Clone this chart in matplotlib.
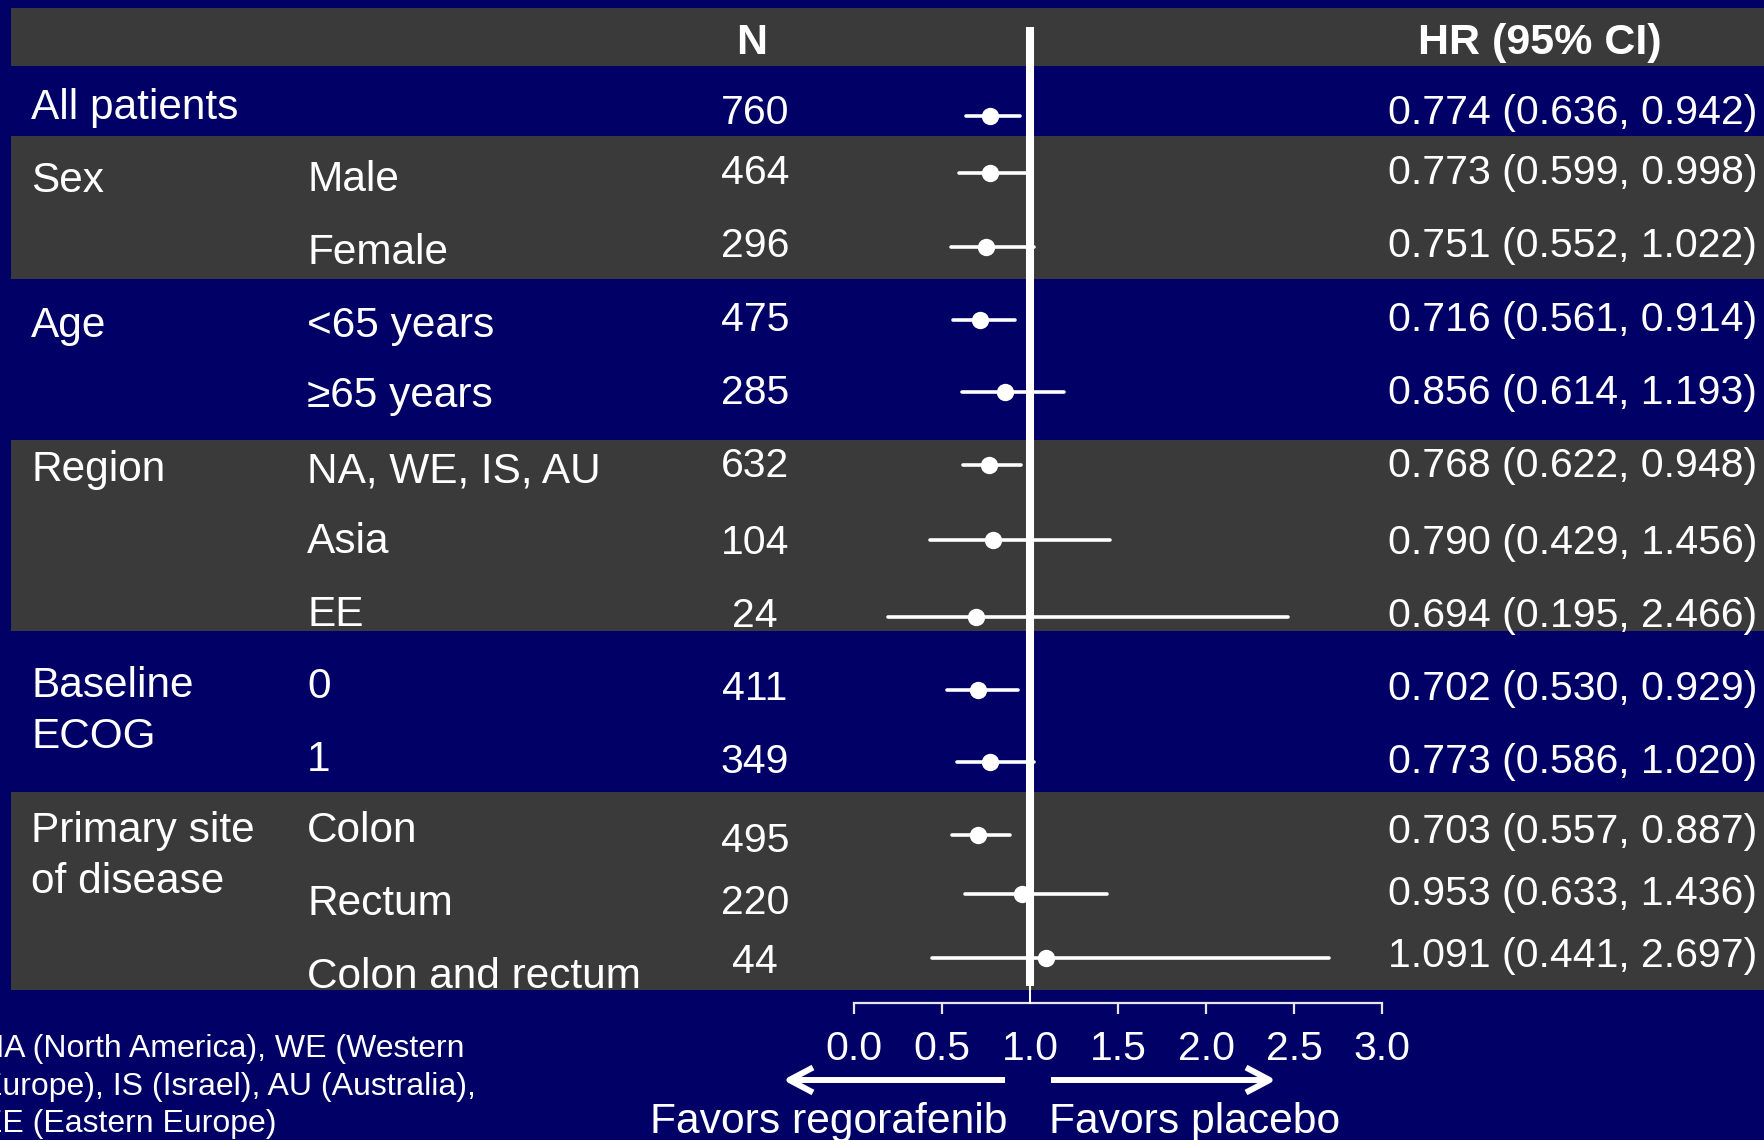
import matplotlib
matplotlib.use("Agg")
import matplotlib.pyplot as plt
from matplotlib.patches import FancyArrowPatch

plt.rcParams['font.family'] = ['Liberation Sans', 'DejaVu Sans']

# subgroup data
groups = [['All patients'], ['Sex'], [], ['Age'], [], ['Region'], [], [],
          ['Baseline', 'ECOG'], [], ['Primary site', 'of disease'], [], []]
subgroups = ['', 'Male', 'Female', '<65 years', '≥65 years', 'NA, WE, IS, AU',
             'Asia', 'EE', '0', '1', 'Colon', 'Rectum', 'Colon and rectum']
n_pts = [760, 464, 296, 475, 285, 632, 104, 24, 411, 349, 495, 220, 44]
hr = [0.774, 0.773, 0.751, 0.716, 0.856, 0.768, 0.790, 0.694, 0.702, 0.773, 0.703, 0.953, 1.091]
ci_lo = [0.636, 0.599, 0.552, 0.561, 0.614, 0.622, 0.429, 0.195, 0.530, 0.586, 0.557, 0.633, 0.441]
ci_hi = [0.942, 0.998, 1.022, 0.914, 1.193, 0.948, 1.456, 2.466, 0.929, 1.020, 0.887, 1.436, 2.697]
ticks = [0.0, 0.5, 1.0, 1.5, 2.0, 2.5, 3.0]
footnote = ['NA (North America), WE (Western',
            'Europe), IS (Israel), AU (Australia),',
            'EE (Eastern Europe)']

# layout (pixels from the top of the figure)
W, H = 1764, 1140
X0, UNIT = 854, 176          # pixel position of HR = 0 and pixels per HR unit
row_y = [116, 173, 247, 320, 392, 465, 540, 617, 690, 762, 835, 894, 958]
group_base = [119, 192, 0, 337, 0, 481, 0, 0, 697, 0, 842, 0, 0]
group_step = 51
sub_base = [0, 191, 264, 337, 407, 482, 553, 626, 698, 771, 842, 915, 988]
n_base = [124, 184, 257, 331, 404, 477, 554, 627, 700, 773, 852, 914, 973]
hr_base = [124, 184, 257, 331, 404, 477, 554, 627, 700, 773, 843, 905, 967]
foot_base = [1057, 1095, 1132]
gray_bands = [(8, 66), (136, 279), (440, 631), (792, 990)]

NAVY = '#000066'
GRAY = '#3a3a3a'
FS = 29.5       # numbers
FS_LAB = 30.5   # row labels
FS_HEAD = 31


def px(x):
    return (x - X0) / UNIT


fig = plt.figure(figsize=(W / 100, H / 100), dpi=100, facecolor=NAVY)
ax = fig.add_axes([0, 0, 1, 1])
ax.set_xlim(px(0), px(W))
ax.set_ylim(H, 0)
ax.axis('off')

for top, bottom in gray_bands:
    ax.axhspan(top, bottom, xmin=11 / W, xmax=1, color=GRAY, lw=0, zorder=0)

# header
ax.text(px(752), 54, 'N', color='white', fontsize=FS_HEAD, fontweight='bold',
        ha='center', va='baseline')
ax.text(px(1540), 54, 'HR (95% CI)', color='white', fontsize=FS_HEAD, fontweight='bold',
        ha='center', va='baseline')

# table text
for i in range(len(hr)):
    for k, line in enumerate(groups[i]):
        ax.text(px(31), group_base[i] + k * group_step, line, color='white',
                fontsize=FS_LAB, ha='left', va='baseline')
    if subgroups[i]:
        ax.text(px(307), sub_base[i], subgroups[i], color='white', fontsize=FS_LAB,
                ha='left', va='baseline')
    ax.text(px(755), n_base[i], str(n_pts[i]), color='white', fontsize=FS,
            ha='center', va='baseline')
    ax.text(px(1757), hr_base[i], f'{hr[i]:.3f} ({ci_lo[i]:.3f}, {ci_hi[i]:.3f})',
            color='white', fontsize=FS, ha='right', va='baseline')

# forest marks
ci = ax.hlines(row_y, ci_lo, ci_hi, color='white', lw=2.6, zorder=2)
ci.set_capstyle('round')
ax.plot(hr, row_y, 'o', color='white', ms=12.5, mew=0, zorder=3)

# reference line at HR = 1
ax.plot([1, 1], [27, 986], color='white', lw=5.8, solid_capstyle='butt', zorder=4)
ax.plot([1, 1], [986, 1003], color='white', lw=1.5, zorder=4)

# x axis
ax.plot([ticks[0], ticks[-1]], [1003, 1003], color='#e6e6e6', lw=1.6, zorder=2)
ax.vlines([t for t in ticks if t != 1.0], 1003, 1014, color='#e6e6e6', lw=1.6)
for t in ticks:
    ax.text(t, 1060, f'{t:.1f}', color='white', fontsize=FS, ha='center', va='baseline')

# direction arrows
for start, end in [(px(1005), px(783)), (px(1051), px(1276))]:
    ax.add_patch(FancyArrowPatch((start, 1080), (end, 1080),
                                 arrowstyle='->,head_length=17,head_width=9',
                                 mutation_scale=1, color='white', lw=4.3,
                                 shrinkA=0, shrinkB=0, capstyle='butt',
                                 joinstyle='round', zorder=3))
ax.text(px(1008), 1133, 'Favors regorafenib', color='white', fontsize=30.7,
        ha='right', va='baseline')
ax.text(px(1049), 1133, 'Favors placebo', color='white', fontsize=30.7,
        ha='left', va='baseline')

for line, yb in zip(footnote, foot_base):
    ax.text(px(-19), yb, line, color='white', fontsize=23, ha='left', va='baseline')

fig.savefig('out.png', dpi=100, facecolor=NAVY)
